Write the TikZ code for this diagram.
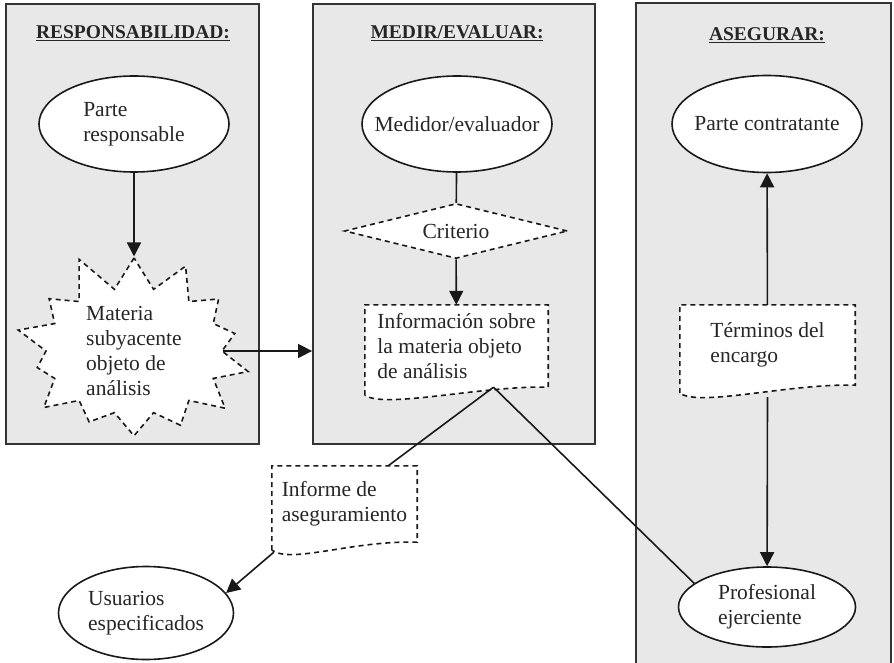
\documentclass[tikz,border=0pt]{standalone}
\usepackage{fontspec}
\setmainfont{Liberation Serif}
\usetikzlibrary{calc,shapes.geometric,shapes.symbols,arrows.meta}

% Document outline with wavy bottom edge
\newcommand{\docoutline}[1]{%
    \fill[white] (#1.south east) .. controls +(-65,-2) and +(20,14) .. ($(#1.south west)+(0,8)$) -- (#1.south west) -- cycle;
    \draw[dashline] ($(#1.south west)+(0,8)$) -- (#1.north west) -- (#1.north east) -- (#1.south east)
        .. controls +(-65,-2) and +(20,14) .. ($(#1.south west)+(0,8)$);
}

\begin{document}
\begin{tikzpicture}[x=1pt,y=-1pt]

    % Diagram style
    \tikzset{
        panel/.style={draw=black!80, line width=1.8pt, fill=black!9},
        title/.style={font=\fontsize{19.5}{22}\selectfont\bfseries, text=black!85},
        body/.style={font=\fontsize{21.5}{25}\selectfont, text=black!85, align=left},
        oval/.style={body, ellipse, draw=black!90, line width=1.6pt, fill=white, inner ysep=0pt, inner xsep=-30pt},
        dashline/.style={draw=black!90, dash pattern=on 5pt off 4pt, line width=1.6pt},
        docbox/.style={body, rectangle, fill=white, inner sep=0pt},
        arr/.style={draw=black!90, line width=1.6pt, -{Triangle[length=14pt,width=14pt]}},
        link/.style={draw=black!90, line width=1.6pt}
    }
    \useasboundingbox (0,0) rectangle (894,663);
    \clip (0,0) rectangle (894,663);

    % Panels
    \node[panel, minimum width=253pt, minimum height=440pt] (PRESP) at (132.5,224) {};
    \node[panel, minimum width=282pt, minimum height=440pt] (PMED) at (454,224) {};
    \filldraw[panel] (636,675) -- (636,3) -- (891,3) -- (891,675);

    % Titles
    \node[title] (TRESP) at (133,33) {\underline{RESPONSABILIDAD:}};
    \node[title] (TMED) at (457,33) {\underline{MEDIR/EVALUAR:}};
    \node[title] (TASEG) at (767,35) {\underline{ASEGURAR:}};

    % Responsabilidad
    \node[oval, minimum width=190pt, minimum height=96pt] (RESP) at (134,124) {Parte\\responsable};
    \node[body, starburst, starburst points=14, starburst point height=40pt, random starburst=11,
          minimum width=256pt, minimum height=160pt, inner sep=0pt, fill=white, dashline]
          (MATERIA) at (134,351) {Materia\\subyacente\\objeto de\\análisis};

    % Medir/evaluar
    \node[oval, minimum width=190pt, minimum height=96pt] (MEDIDOR) at (457,124) {Medidor/evaluador};
    \node[body, diamond, aspect=4, minimum width=223pt, minimum height=55pt, inner sep=0pt, fill=white, dashline]
          (CRITERIO) at (456,231) {Criterio};
    \node[docbox, minimum width=183pt, minimum height=82pt] (INFO) at (456.5,346)
          {Información sobre\\la materia objeto\\de análisis};
    \docoutline{INFO}

    % Asegurar
    \node[oval, minimum width=190pt, minimum height=97pt] (CONTRAT) at (767,124) {Parte contratante};
    \node[docbox, minimum width=175pt, minimum height=80pt] (TERMINOS) at (767.5,345) {Términos del\\encargo};
    \docoutline{TERMINOS}
    \node[oval, minimum width=177pt, minimum height=80pt] (PROF) at (767,607) {Profesional\\ejerciente};

    % Informe and usuarios
    \node[docbox, minimum width=145pt, minimum height=76pt] (INFORME) at (344.5,504) {Informe de\\aseguramiento};
    \docoutline{INFORME}
    \node[oval, minimum width=175pt, minimum height=93pt] (USUARIOS) at (146,613) {Usuarios\\especificados};

    % Connectors
    \draw[arr] (RESP) -- (MATERIA);
    \draw[arr] (MATERIA.east) -- (MATERIA.east -| PMED.west);
    \draw[link] (MEDIDOR) -- (CRITERIO);
    \draw[arr] (CRITERIO) -- (INFO);
    \coordinate (APEX) at ($(INFO.south)+(37,0)$);
    \draw[link] (APEX) -- ($(INFORME.north east)+(-29,0)$);
    \draw[link] (APEX) -- (PROF.162);
    \draw[arr] ($(INFORME.south west)+(2,10)$) -- (USUARIOS.14);
    \draw[arr] (TERMINOS) -- (CONTRAT);
    \draw[arr] ($(TERMINOS.south)+(0,12)$) -- (PROF);
\end{tikzpicture}
\end{document}
